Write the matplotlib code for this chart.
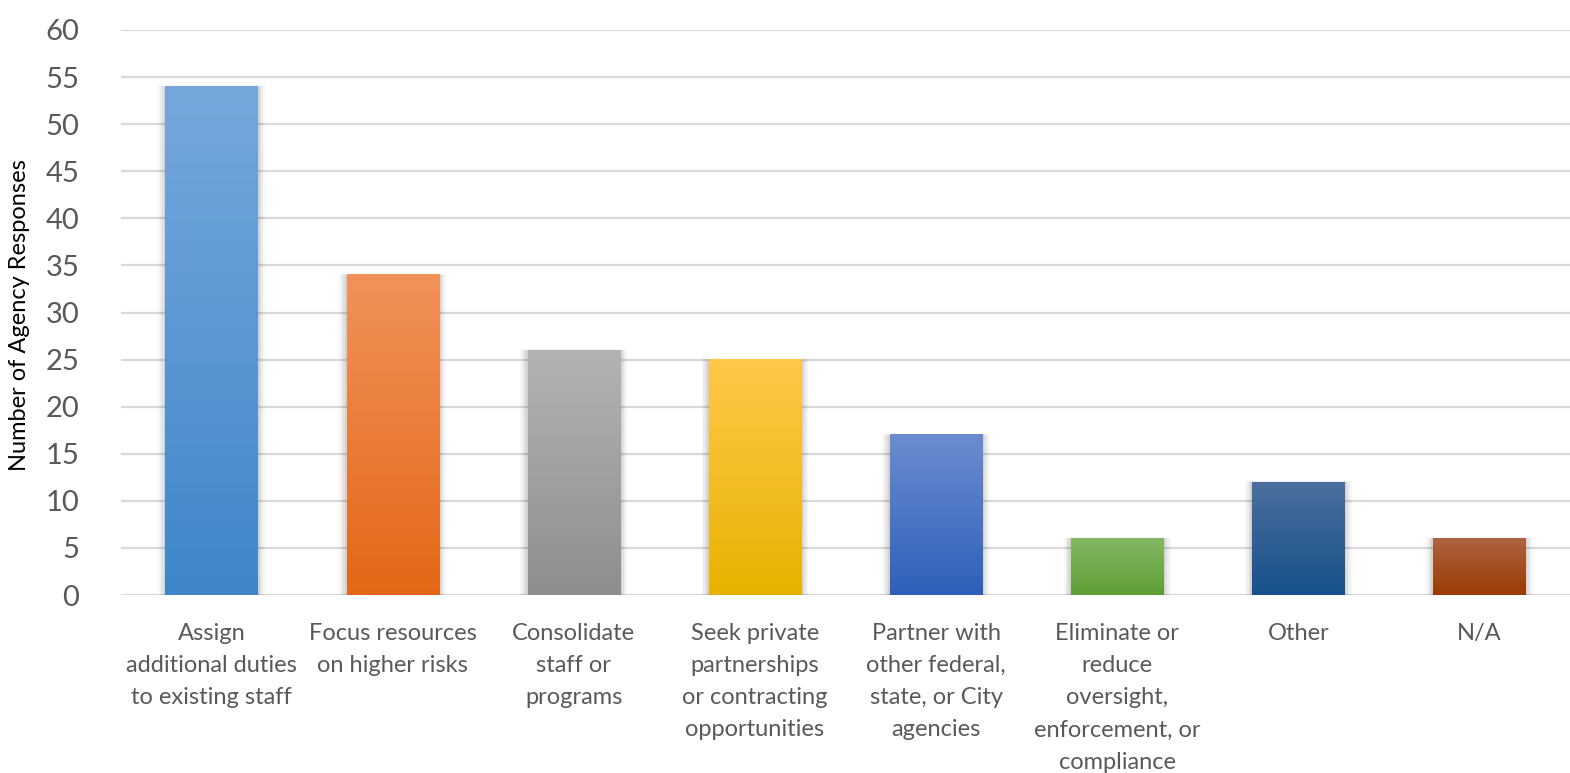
import numpy as np
import matplotlib.pyplot as plt
from matplotlib.colors import LinearSegmentedColormap
from matplotlib.patches import Rectangle

# Responses by strategy
categories = [
    "Assign\nadditional duties\nto existing staff",
    "Focus resources\non higher risks",
    "Consolidate\nstaff or\nprograms",
    "Seek private\npartnerships\nor contracting\nopportunities",
    "Partner with\nother federal,\nstate, or City\nagencies",
    "Eliminate or\nreduce\noversight,\nenforcement, or\ncompliance",
    "Other",
    "N/A",
]
responses = [54, 34, 26, 25, 17, 6, 12, 6]
yticks = list(range(0, 61, 5))

# top / bottom gradient colours for each bar
top_colors = ["#76a8dd", "#f1925a", "#b3b3b3", "#ffc84a", "#6b8dd0", "#84b864", "#4b6f9e", "#ad6342"]
bottom_colors = ["#3f86c9", "#e36716", "#8e8e8e", "#e7b300", "#2f5fb9", "#5e9e35", "#17508a", "#9a3b02"]

plt.rcParams['font.family'] = ['Lato', 'DejaVu Sans']

fig = plt.figure(figsize=(15.70, 7.73), dpi=100)
ax = fig.add_axes([121 / 1570, 178 / 773, 1449 / 1570, 565 / 773])

x = np.arange(len(responses))
width = 0.51

for i, v in enumerate(responses):
    x0 = x[i] - width / 2
    # soft drop shadow
    for k, a in enumerate([0.03, 0.04, 0.05, 0.06]):
        grow = 0.01 * (4 - k)
        ax.add_patch(Rectangle((x0 - grow, -0.15), width + 2 * grow, v + 0.1 + grow * 4,
                               facecolor="#000000", alpha=a, lw=0, zorder=2))
    cmap = LinearSegmentedColormap.from_list(f"g{i}", [top_colors[i], bottom_colors[i]])
    grad = np.linspace(0, 1, 256).reshape(-1, 1)
    ax.imshow(grad, cmap=cmap, aspect="auto", extent=(x0, x0 + width, 0, v),
              origin="upper", zorder=3, interpolation="bilinear")

ax.set_xlim(-0.5, len(responses) - 0.5)
ax.set_ylim(0, 60)
ax.set_yticks(yticks)
ax.set_yticklabels([str(t) for t in yticks], fontsize=21, color="#595959")
ax.set_xticks(x)
ax.set_xticklabels(categories, fontsize=17, color="#595959", linespacing=1.66)
ax.tick_params(axis="both", length=0)
ax.tick_params(axis="x", pad=20)
ax.tick_params(axis="y", pad=30)

ax.grid(axis="y", color="#d9d9d9", lw=1.6, zorder=0)
ax.set_axisbelow(True)
for s in ax.spines.values():
    s.set_visible(False)

fig.text(20 / 1570, (773 - 315) / 773, "Number of Agency Responses", rotation=90,
         ha="center", va="center", fontsize=17, color="#000000")

fig.savefig("out.png", dpi=100, facecolor="white")
